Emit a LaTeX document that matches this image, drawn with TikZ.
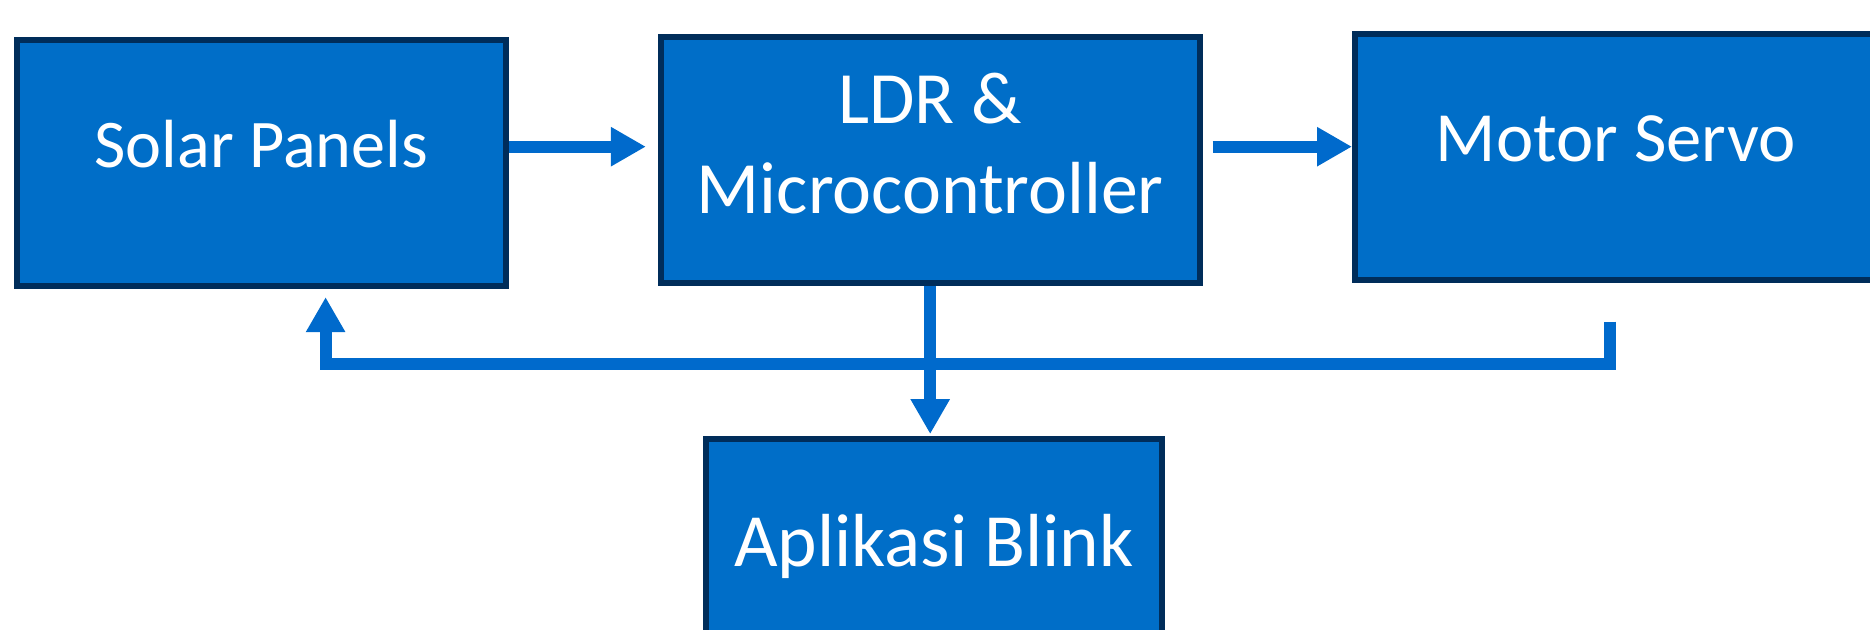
\documentclass[tikz,border=0pt]{standalone}
\usepackage{fontspec}
\setmainfont{Carlito}
\usetikzlibrary{arrows.meta,positioning}
\definecolor{boxblue}{RGB}{0,110,200}
\definecolor{boxedge}{RGB}{0,45,90}
\definecolor{linkblue}{RGB}{0,106,204}

\begin{document}
\begin{tikzpicture}[
  box/.style={rectangle,draw=boxedge,line width=1.6pt,fill=boxblue,
              minimum height=2.46cm,text=white,align=center,
              text height=0.5cm,text depth=0.41cm},
  arrow/.style={-{Triangle[length=0.35cm,width=0.37cm]},draw=linkblue,line width=3.4pt}
]
\clip (0,0) rectangle (18.70,6.30);
\node[box,minimum width=4.89cm,font=\fontsize{19.4}{23}\selectfont] (solar) at (2.612,4.667) {Solar Panels};
\node[box,minimum width=5.39cm,font=\fontsize{21}{25.8}\selectfont,
      text height=1.41cm,text depth=0.33cm] (ldr) at (9.302,4.702) {LDR \&\\Microcontroller};
\node[box,minimum width=5.22cm,font=\fontsize{20.1}{24}\selectfont] (motor) at (16.158,4.731) {Motor Servo};
\node[box,minimum width=4.56cm,font=\fontsize{21.4}{25}\selectfont] (blink) at (9.338,0.681) {Aplikasi Blink};
\coordinate (row)     at (0,4.833);
\coordinate (fbright) at (16.10,2.663);
\coordinate (fbleft)  at (3.256,2.663);

\draw[arrow,shorten >=0.12cm] (solar.east |- row) -- (ldr.west |- row);
\draw[arrow,shorten <=0.10cm] (ldr.east |- row) -- (motor.west |- row);
\draw[arrow,shorten >=0.02cm] (ldr.south) -- (ldr.south |- blink.north);
\draw[arrow,shorten >=0.08cm] (fbright |- motor.south) ++(0,-0.39) |- (fbleft) -- (fbleft |- solar.south);
\end{tikzpicture}
\end{document}
